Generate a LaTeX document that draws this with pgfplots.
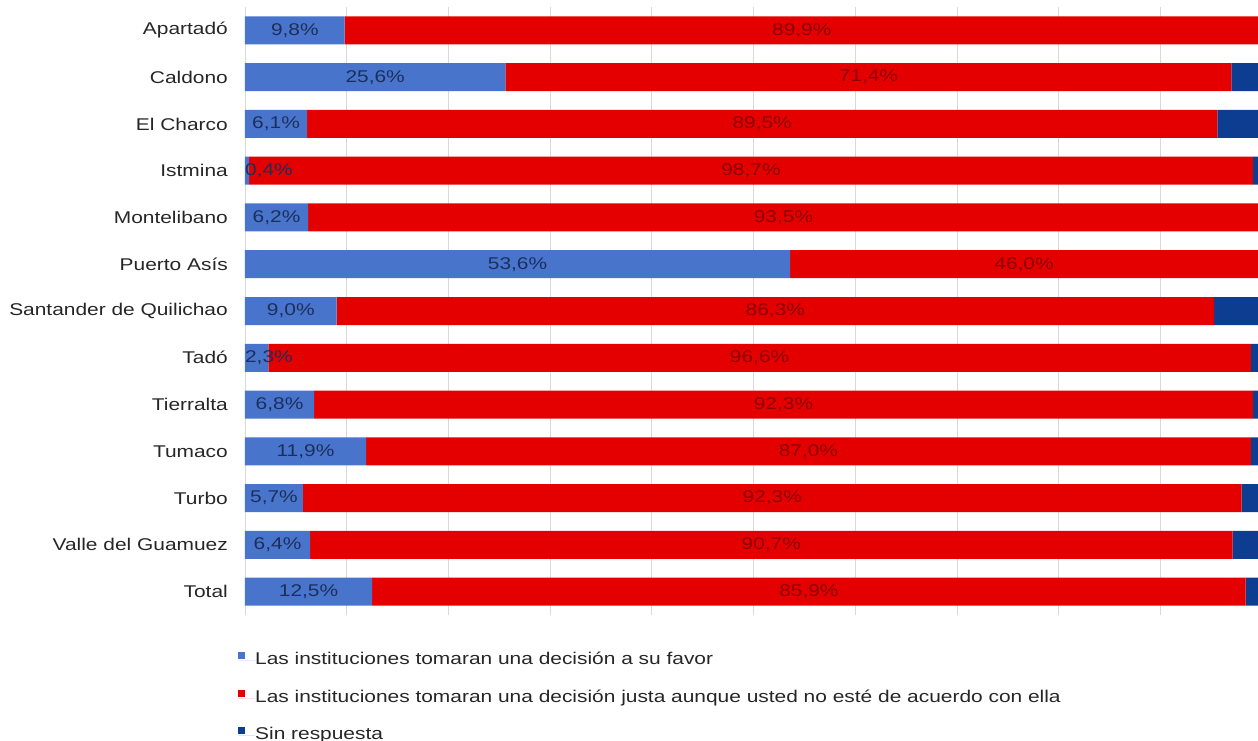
\documentclass[border=0pt]{standalone}
\usepackage{fontspec}
\setmainfont{Liberation Sans}[FakeStretch=1.23]
\usepackage{pgfplots}
\usepackage{pgfplotstable}
\pgfplotsset{compat=1.18}
\definecolor{cblue}{HTML}{4874CB}
\definecolor{cred}{HTML}{E50000}
\definecolor{cnavy}{HTML}{0C3D91}
\definecolor{tblue}{HTML}{1C2F5C}
\definecolor{tred}{HTML}{8B0000}
\definecolor{gridgray}{HTML}{D9D9D9}
\definecolor{labelgray}{HTML}{262626}

\pgfplotstableread{
idx a b c
0 9.8 89.9 0.3
1 25.6 71.4 3.0
2 6.1 89.5 4.4
3 0.4 98.7 0.9
4 6.2 93.5 0.3
5 53.6 46.0 0.4
6 9.0 86.3 4.7
7 2.3 96.6 1.1
8 6.8 92.3 0.9
9 11.9 87.0 1.1
10 5.7 92.3 2.0
11 6.4 90.7 2.9
12 12.5 85.9 1.6
}\datatab

\begin{document}
\begin{tikzpicture}[font=\fontsize{17pt}{20pt}\selectfont]
\begin{axis}[
  at={(0,0)}, anchor=south west,
  scale only axis, width=1013pt, height=608pt,
  xbar stacked, bar width=28pt,
  xmin=0, xmax=99.6, ymin=-0.5, ymax=12.5, y dir=reverse,
  ytick={0,...,12},
  yticklabels={Apartadó, Caldono, El Charco, Istmina, Montelibano, Puerto Asís, Santander de Quilichao, Tadó, Tierralta, Tumaco, Turbo, Valle del Guamuez, Total},
  xtick={0,10,...,90}, xticklabels={}, major tick length=0pt,
  xmajorgrids, grid style={draw=gridgray, line width=0.8pt},
  axis line style={draw=none},
  yticklabel style={anchor=east, inner sep=0pt, xshift=-17pt, text=labelgray},
  legend style={at={(0,0)}, anchor=north west, xshift=-7pt, yshift=-37pt,
    draw=none, fill=none, inner sep=0pt, row sep=21pt,
    legend cell align=left,
    nodes={inner sep=0pt, text height=12pt, text depth=4pt, text=labelgray}},
  legend image code/.code={\fill[#1] (0pt,1.5pt) rectangle (7pt,8.5pt); \path (0pt,0pt) -- (17pt,0pt);},
]
\addplot[fill=cblue, draw=none] table[x=a, y=idx]{\datatab};
\addlegendentry{Las instituciones tomaran una decisión a su favor}
\addplot[fill=cred, draw=none] table[x=b, y=idx]{\datatab};
\addlegendentry{Las instituciones tomaran una decisión justa aunque usted no esté de acuerdo con ella}
\addplot[fill=cnavy, draw=none] table[x=c, y=idx]{\datatab};
\addlegendentry{Sin respuesta}
\end{axis}
\begin{axis}[
  at={(0,0)}, anchor=south west,
  scale only axis, width=1013pt, height=608pt,
  xmin=0, xmax=99.6, ymin=-0.5, ymax=12.5, y dir=reverse,
  hide axis, clip=false,
  nodes near coords={\pgfmathprintnumber[fixed, fixed zerofill, precision=1, use comma, assume math mode=true]{\pgfplotspointmeta}\%},
  point meta=explicit,
]
\addplot[only marks, mark=*, mark size=0pt, mark options={draw=none, fill=none},
  every node near coord/.append style={anchor=center, inner sep=0pt, text=tblue}]
  table[x expr={max(\thisrow{a}/2, 2.35)}, y=idx, meta=a]{\datatab};
\addplot[only marks, mark=*, mark size=0pt, mark options={draw=none, fill=none},
  every node near coord/.append style={anchor=center, inner sep=0pt, text=tred}]
  table[x expr={\thisrow{a}+\thisrow{b}/2}, y=idx, meta=b]{\datatab};
\end{axis}
\pgfresetboundingbox
\path[use as bounding box] (-245pt,-126pt) rectangle (1013pt,615pt);
\end{tikzpicture}
\end{document}
